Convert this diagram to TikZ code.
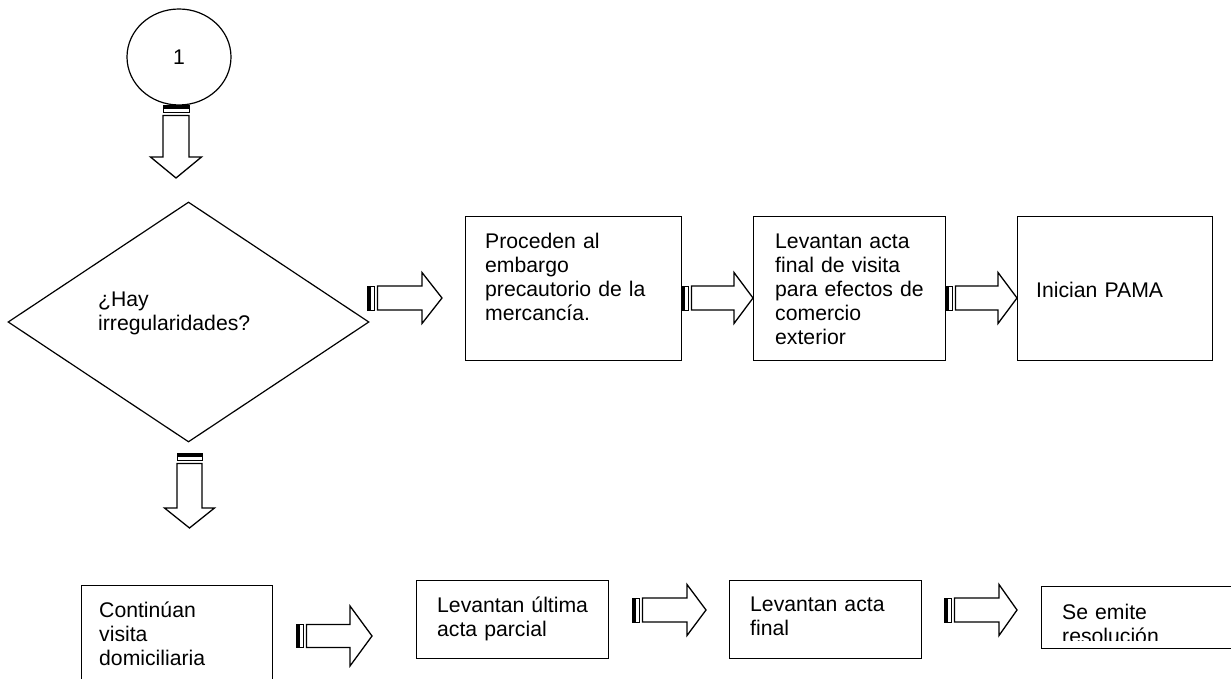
\documentclass[tikz,border=0pt]{standalone}
\usepackage{fontspec}
\setmainfont{Liberation Sans}
\usetikzlibrary{shapes.geometric}
% striped block arrow: #1 start, #2 rotation, #3 length to tip, #4 shaft half height, #5 head half height, #6 head length
\newcommand\stripearrow[6]{%
\begin{scope}[shift={#1},rotate=#2]
  \fill (0,-#4) rectangle (4,#4);
  \draw[line width=0.9pt] (0,-#4) rectangle (7,#4);
  \draw[line width=1.3pt,line join=miter] (10.5,-#4) -- ({#3-#6},-#4) -- ({#3-#6},-#5) -- (#3,0) -- ({#3-#6},#5) -- ({#3-#6},#4) -- (10.5,#4) -- cycle;
\end{scope}}
\begin{document}
\begin{tikzpicture}[x=1pt,y=1pt,
  box/.style={draw,line width=1.3pt,rectangle,inner sep=0pt,anchor=north west},
  txt/.style={anchor=base west,inner sep=0pt,align=left,text width=#1,font=\fontsize{21.2}{24}\selectfont},
  txt/.default=185]
\fill[white] (0,0) rectangle (1231,-679);
\begin{scope}[overlay]
\clip (0,0) rectangle (1231,-679);
% start connector
\node[draw,ellipse,line width=1.2pt,minimum width=104,minimum height=96,inner sep=0pt,font=\fontsize{21.2}{24}\selectfont] (c1) at (179,-57) {1};
\stripearrow{(176,-105)}{-90}{73}{13}{25.5}{21}
% decision
\node[draw,diamond,line width=1.2pt,minimum width=361,minimum height=240,inner sep=0pt] (d1) at (188.5,-322) {};
\node[txt] (td) at (98,-306) {¿Hay\\irregularidades?};
\stripearrow{(367,-298)}{0}{75}{12}{25.5}{20}
\stripearrow{(189.5,-453)}{-90}{75}{12.5}{25}{20}
% top row
\node[box,minimum width=216,minimum height=144] (b1) at (465,-216) {};
\node[txt] (t1) at (485,-248) {Proceden al\\embargo\\precautorio de la\\mercancía.};
\stripearrow{(681,-298)}{0}{72}{12}{25.5}{19}
\node[box,minimum width=192,minimum height=144] (b2) at (753,-216) {};
\node[txt] (t2) at (775,-248) {Levantan acta\\final de visita\\para efectos de\\comercio\\exterior};
\stripearrow{(945,-298)}{0}{72}{12}{25.5}{19}
\node[box,minimum width=195,minimum height=144] (b3) at (1017,-216) {};
\node[txt] (t3) at (1036,-297) {Inician PAMA};
% bottom row
\node[box,minimum width=191,minimum height=130] (c1b) at (81,-585) {};
\node[txt] (t4) at (99,-617) {Continúan\\visita\\domiciliaria};
\stripearrow{(296,-636)}{0}{76}{11.5}{30}{22}
\node[box,minimum width=192,minimum height=78] (c2b) at (416,-580) {};
\node[txt] (t5) at (437,-612) {Levantan última\\acta parcial};
\stripearrow{(632,-610)}{0}{74}{12}{25.5}{19}
\node[box,minimum width=192,minimum height=78] (c3b) at (729,-580) {};
\node[txt] (t6) at (750,-611) {Levantan acta\\final};
\stripearrow{(944,-610)}{0}{73}{12}{25.5}{18}
\node[box,minimum width=220,minimum height=62] (c4b) at (1041,-586) {};
\begin{scope}
\clip (1041,-586) rectangle (1231,-640);
\node[txt] (t7) at (1062,-619) {Se emite\\resolución};
\end{scope}
\end{scope}
\end{tikzpicture}
\end{document}
